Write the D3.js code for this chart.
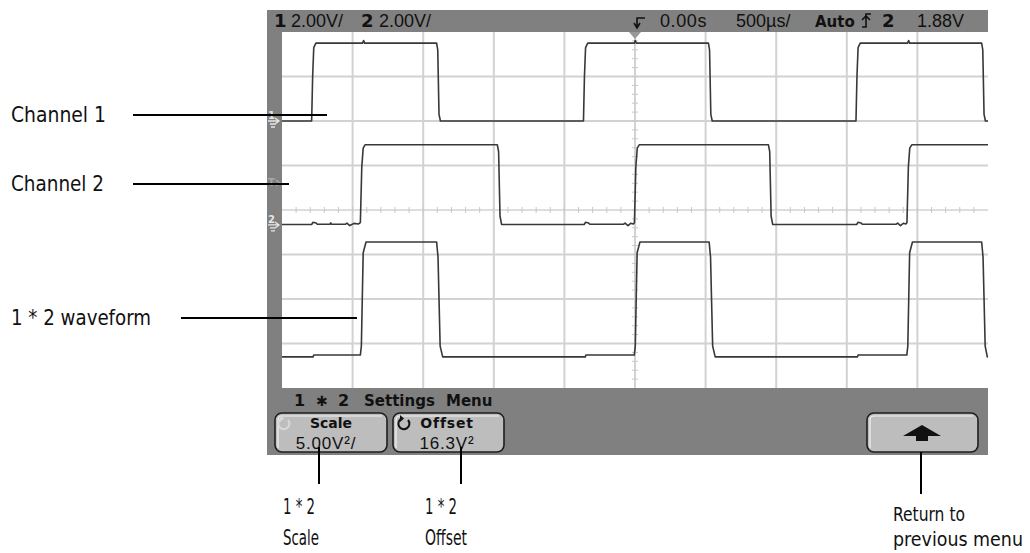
<!DOCTYPE html>
<html>
<head>
<meta charset="utf-8">
<script src="https://cdn.jsdelivr.net/npm/d3@7"></script>
<style>
  body { margin: 0; background: #fff; }
  svg { display: block; }
  .osc { font-family: "Liberation Sans", "DejaVu Sans", sans-serif; fill: #111; }
  .oscb { font-family: "DejaVu Sans", sans-serif; font-weight: bold; fill: #111; }
  .note { font-family: "DejaVu Sans Condensed", "DejaVu Sans", sans-serif; fill: #111; }
</style>
</head>
<body>
<svg id="chart" width="1030" height="553"></svg>
<script>
// time in ms, 500us/div, 10 divisions
const timeSpan = [-2.5, 2.5]

// channel 1 (V), 2.00V/div
const ch1Time = [-2.5, -2.29, -2.283, -2.275, -2.26, -1.93, -1.922, -1.915, -1.405, -1.397, -1.388, -1.378,
  -0.365, -0.358, -0.35, -0.335, -0.005, 0.002, 0.01, 0.52, 0.528, 0.537, 0.547,
  1.565, 1.572, 1.58, 1.595, 1.93, 1.938, 1.945, 2.455, 2.463, 2.472, 2.482, 2.5]
const ch1Volt = [0, 0, 2.0, 3.3, 3.5, 3.5, 3.62, 3.5, 3.5, 3.2, 0.3, 0,
  0, 2.0, 3.3, 3.5, 3.5, 3.62, 3.5, 3.5, 3.2, 0.3, 0,
  0, 2.0, 3.3, 3.5, 3.5, 3.62, 3.5, 3.5, 3.2, 0.3, 0, 0]

// channel 2 (V), 2.00V/div
const ch2Time = [-2.5, -2.29, -2.28, -2.26, -2.25, -2.16, -2.155, -2.15, -2.05, -2.04, -2.02, -1.99, -1.96,
  -1.945, -1.935, -1.925, -1.912, -0.975, -0.966, -0.956, -0.945,
  -0.36, -0.35, -0.33, -0.32, -0.08, -0.07, -0.05, -0.03, -0.012, -0.004, 0.006, 0.016, 0.03,
  0.945, 0.954, 0.964, 0.975, 1.57, 1.58, 1.6, 1.61, 1.85, 1.86, 1.88, 1.9, 1.918, 1.926,
  1.936, 1.946, 1.96, 2.5]
const ch2Volt = [0.02, 0.02, 0.12, 0.09, 0.03, 0.03, 0.09, 0.03, 0.03, 0.08, -0.03, 0.07, 0.04,
  0.1, 2.6, 3.45, 3.6, 3.6, 3.3, 0.4, 0.02,
  0.02, 0.12, 0.09, 0.03, 0.03, 0.08, -0.03, 0.07, 0.04, 0.1, 2.6, 3.45, 3.6,
  3.6, 3.3, 0.4, 0.02, 0.02, 0.12, 0.09, 0.03, 0.03, 0.08, -0.03, 0.07, 0.04, 0.1,
  2.6, 3.45, 3.6, 3.6]

// 1 * 2 math (V^2), 5.00V^2/div, offset 16.3V^2
const mathTime = [-2.5, -2.28, -2.275, -1.945, -1.938, -1.925, -1.905, -1.405, -1.395, -1.38, -1.362,
  -0.352, -0.347, -0.005, 0.002, 0.015, 0.035, 0.525, 0.535, 0.55, 0.568,
  1.575, 1.58, 1.925, 1.932, 1.945, 1.965, 2.455, 2.465, 2.48, 2.495, 2.5]
const mathVolt = [-0.2, -0.2, 0, 0, 1, 11.5, 12.7, 12.7, 11, 1, -0.2,
  -0.2, 0, 0, 1, 11.5, 12.7, 12.7, 11, 1, -0.2,
  -0.2, 0, 0, 1, 11.5, 12.7, 12.7, 11, 1, -0.2, -0.2]

const ch1Domain = [-12, 4]
const ch2Domain = [-7.33, 8.67]
const mathDomain = [-3.7, 36.3]
const trigLevel = 1.88

const topLabels = ["2.00V/", "2.00V/", "0.00s", "500µs/", "Auto", "1.88V"]
const leftNotes = ["Channel 1", "Channel 2", "1 * 2 waveform"]
const bottomNotes = ["1 * 2", "Scale", "1 * 2", "Offset", "Return to", "previous menu"]

const svg = d3.select("#chart")
const gx0 = 282, gx1 = 988, gy0 = 32, gy1 = 388

const x = d3.scaleLinear().domain(timeSpan).range([gx0, gx1])
const y1 = d3.scaleLinear().domain(ch1Domain).range([gy1, gy0])
const y2 = d3.scaleLinear().domain(ch2Domain).range([gy1, gy0])
const ym = d3.scaleLinear().domain(mathDomain).range([gy1, gy0])
const yDiv = d3.scaleLinear().domain([-4, 4]).range([gy1, gy0])

// frame
svg.append("rect").attr("x", 267).attr("y", 10).attr("width", gx1 - 267).attr("height", 455 - 10).attr("fill", "#808080")
svg.append("rect").attr("x", gx0).attr("y", gy0).attr("width", gx1 - gx0).attr("height", gy1 - gy0).attr("fill", "#fff")

// grid
var grid = svg.append("g")
d3.range(-2, 2.01, 0.5).forEach(t => {
  grid.append("line").attr("x1", x(t)).attr("x2", x(t)).attr("y1", gy0).attr("y2", gy1)
    .attr("stroke", "#d2d2d2").attr("stroke-width", 2)
})
d3.range(-3, 3.01, 1).forEach(d => {
  grid.append("line").attr("x1", gx0).attr("x2", gx1).attr("y1", yDiv(d)).attr("y2", yDiv(d))
    .attr("stroke", "#d2d2d2").attr("stroke-width", d === 0 ? 1.5 : 2)
})
d3.range(-2.4, 2.45, 0.1).forEach(t => {
  grid.append("line").attr("x1", x(t)).attr("x2", x(t)).attr("y1", yDiv(0) - 3).attr("y2", yDiv(0) + 3)
    .attr("stroke", "#c8c8c8").attr("stroke-width", 1)
})
d3.range(-3.8, 3.85, 0.2).forEach(d => {
  grid.append("line").attr("x1", x(0) - 3).attr("x2", x(0) + 3).attr("y1", yDiv(d)).attr("y2", yDiv(d))
    .attr("stroke", "#c8c8c8").attr("stroke-width", 1)
})

// traces
svg.append("clipPath").attr("id", "clip").append("rect")
  .attr("x", gx0).attr("y", gy0).attr("width", gx1 - gx0).attr("height", gy1 - gy0)
var traces = svg.append("g").attr("clip-path", "url(#clip)")

function drawTrace(times, values, yScale) {
  var line = d3.line().x(d => x(d[0])).y(d => yScale(d[1]))
  traces.append("path").datum(d3.zip(times, values))
    .attr("d", line).attr("fill", "none").attr("stroke", "#383838").attr("stroke-width", 1.6)
    .attr("stroke-linejoin", "round")
}
drawTrace(ch1Time, ch1Volt, y1)
drawTrace(ch2Time, ch2Volt, y2)
drawTrace(mathTime, mathVolt, ym)

// top status line
function txt(cls, px, py, s, size, anchor) {
  return svg.append("text").attr("class", cls).attr("x", px).attr("y", py)
    .attr("font-size", size).attr("text-anchor", anchor || "start").text(s)
}
txt("oscb", 274, 27, "1", 18)
txt("osc", 291, 27, topLabels[0], 18)
txt("oscb", 361, 27, "2", 18)
txt("osc", 379, 27, topLabels[1], 18)
txt("osc", 660, 27, topLabels[2], 18).attr("letter-spacing", 0.6)
txt("osc", 736, 27, topLabels[3], 18)
txt("oscb", 815, 27, topLabels[4], 15)
txt("oscb", 882, 27, "2", 18)
txt("osc", 917, 27, topLabels[5], 18)

// trigger edge symbol
svg.append("path").attr("d", "M862,27 h4 v-13 h5 M862,20 l4,-4 l4,4")
  .attr("fill", "none").attr("stroke", "#111").attr("stroke-width", 1.6)
// delay reference icon
svg.append("path").attr("d", "M645,18 h-8 v9 M634,23 l3,5 l3,-5")
  .attr("fill", "none").attr("stroke", "#111").attr("stroke-width", 1.6)
svg.append("path").attr("d", `M${x(0) - 6},${gy0} L${x(0) + 6},${gy0} L${x(0)},${gy0 + 7} Z`).attr("fill", "#999")

// ground markers on left strip
function groundMark(py, num, col) {
  var g = svg.append("g")
  g.append("text").attr("x", 268).attr("y", py - 2).attr("font-size", 10).attr("font-weight", "bold")
    .attr("font-family", "DejaVu Sans").attr("fill", col).text(num)
  g.append("path").attr("d", `M268,${py} h10 M275,${py - 3} l4,3 l-4,3 M270,${py + 3} h6 M271,${py + 6} h4`)
    .attr("fill", "none").attr("stroke", col).attr("stroke-width", 1.3)
}
groundMark(y1(0), "1", "#e6e6e6")
groundMark(y2(0), "2", "#e6e6e6")
var ty = y2(trigLevel)
svg.append("text").attr("x", 268).attr("y", ty + 3).attr("font-size", 10).attr("font-weight", "bold")
  .attr("font-family", "DejaVu Sans").attr("fill", "#a8a8a8").text("T")
svg.append("path").attr("d", `M276,${ty - 3} l4,3 l-4,3`).attr("fill", "none").attr("stroke", "#a8a8a8").attr("stroke-width", 1.3)

// menu line
txt("oscb", 294, 406, "1", 16)
txt("osc", 316, 406, "✱", 14).attr("fill", "#333")
txt("oscb", 338, 406, "2", 16)
txt("oscb", 364, 406, "Settings", 15)
txt("oscb", 446, 406, "Menu", 15)

// softkeys
function softkey(bx, bw) {
  svg.append("rect").attr("x", bx).attr("y", 413).attr("width", bw).attr("height", 39).attr("rx", 7)
    .attr("fill", "#bdbdbd").attr("stroke", "#1e1e1e").attr("stroke-width", 1.6)
  svg.append("path").attr("d", `M${bx + 3},448 v-28 q0,-4 4,-4 h${bw - 12}`)
    .attr("fill", "none").attr("stroke", "#f2f2f2").attr("stroke-width", 1.2)
}
softkey(275, 112)
softkey(393, 111)
softkey(867, 111)

function knob(cx, cy, col) {
  svg.append("path").attr("d", `M${cx + 4},${cy - 4} A5.5,5.5 0 1 1 ${cx - 2},${cy - 5.5}`)
    .attr("fill", "none").attr("stroke", col).attr("stroke-width", 2)
  svg.append("path").attr("d", `M${cx - 4},${cy - 9} l4,3.5 l-4,3.5 Z`).attr("fill", col)
}
knob(284, 424, "#d8d8d8")
knob(404, 424, "#111")

txt("oscb", 331, 428, "Scale", 14, "middle")
txt("osc", 326, 449, "5.00V²/", 17, "middle").attr("letter-spacing", 0.8)
txt("oscb", 447, 428, "Offset", 14, "middle").attr("letter-spacing", 0.8)
txt("osc", 447, 449, "16.3V²", 17, "middle").attr("letter-spacing", 0.8)

svg.append("path").attr("d", "M903,436 L922,425 L941,436 H928 V441 H916 V436 Z").attr("fill", "#111")

// annotations
var notes = svg.append("g").attr("stroke", "#000").attr("stroke-width", 2)
notes.append("line").attr("x1", 133).attr("x2", 327).attr("y1", 115).attr("y2", 115)
notes.append("line").attr("x1", 133).attr("x2", 289).attr("y1", 184).attr("y2", 184)
notes.append("line").attr("x1", 181).attr("x2", 357).attr("y1", 318).attr("y2", 318)
notes.append("line").attr("x1", 319).attr("x2", 319).attr("y1", 447).attr("y2", 484)
notes.append("line").attr("x1", 461).attr("x2", 461).attr("y1", 447).attr("y2", 484)
notes.append("line").attr("x1", 921).attr("x2", 921).attr("y1", 452).attr("y2", 494)

function note(px, py, s, size, len) {
  return txt("note", px, py, s, size).attr("textLength", len).attr("lengthAdjust", "spacingAndGlyphs")
}
note(11, 122, leftNotes[0], 22, 95)
note(11, 191, leftNotes[1], 22, 93)
note(11, 325, leftNotes[2], 22, 140)
note(283, 514, bottomNotes[0], 21, 32)
note(283, 545, bottomNotes[1], 21, 36)
note(425, 514, bottomNotes[2], 21, 32)
note(425, 545, bottomNotes[3], 21, 42)
note(893, 521, bottomNotes[4], 19, 72)
note(893, 546, bottomNotes[5], 19, 130)
</script>
</body>
</html>
